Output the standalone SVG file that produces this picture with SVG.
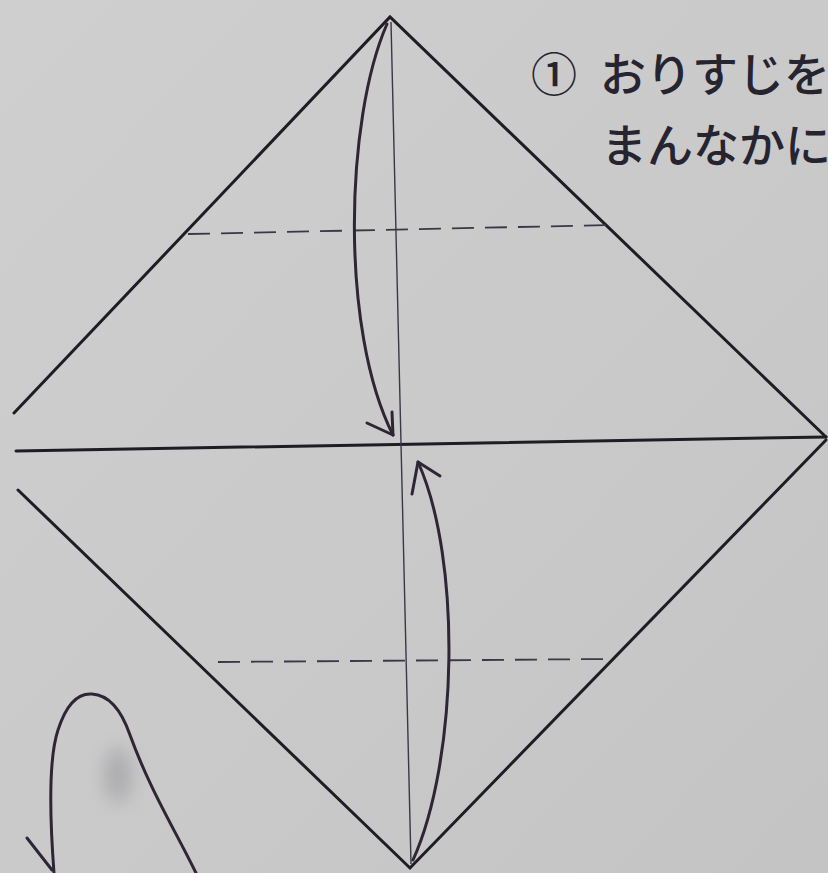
<svg xmlns="http://www.w3.org/2000/svg" width="828" height="873" viewBox="0 0 828 873">
<defs>
<linearGradient id="bg" x1="0" y1="0" x2="1" y2="1">
<stop offset="0" stop-color="#cfcfd0"/>
<stop offset="0.5" stop-color="#cacacb"/>
<stop offset="1" stop-color="#c4c4c5"/>
</linearGradient>
<filter id="blur" x="-50%" y="-50%" width="200%" height="200%"><feGaussianBlur stdDeviation="9"/></filter>
<style>
.edge{fill:none;stroke:#1e1d24;stroke-width:3;stroke-linecap:round}
.crease{fill:none;stroke:#3a3846;stroke-width:1.4}
.dash{fill:none;stroke:#3a3846;stroke-width:1.8;stroke-dasharray:22 11}
.arrow{fill:none;stroke:#2e2535;stroke-width:3;stroke-linecap:round;stroke-linejoin:round}
.txt{font-family:"Noto Sans CJK JP","Noto Sans",sans-serif;font-size:46px;font-weight:500;fill:#25242f}
</style>
</defs>
<rect width="828" height="873" fill="url(#bg)"/>
<ellipse cx="118" cy="775" rx="14" ry="28" fill="#9a9a9c" opacity="0.6" filter="url(#blur)"/>
<g id="paper">
<path class="edge" d="M14 413 L390 17 L826 437"/>
<path class="edge" d="M18 490 L410 868 L826 440"/>
<path class="edge" d="M16 451 L826 437"/>
</g>
<g id="creases">
<path class="crease" d="M391 22 L411 864"/>
<path class="dash" d="M188 234 L612 225"/>
<path class="dash" d="M218 662 L610 659"/>
</g>
<g id="connectors">
<path class="arrow" d="M387 24 C345 120 340 330 393 435"/>
<path class="arrow" d="M367 423 L393 435 L392 412"/>
<path class="arrow" d="M413 860 C458 760 462 560 418 462"/>
<path class="arrow" d="M412 494 L418 462 L440 476"/>
</g>
<g id="hand">
<path class="arrow" d="M54 873 C50 820 48 760 58 730 C66 705 78 693 92 694 C110 695 122 712 130 735 C150 790 175 830 196 873"/>
<path class="arrow" d="M27 838 L52 870"/>
</g>
<g id="label">
<text class="txt" x="531" y="91">①</text>
<text class="txt" x="600" y="91">おりすじを</text>
<text class="txt" x="601" y="162">まんなかに</text>
</g>
</svg>
